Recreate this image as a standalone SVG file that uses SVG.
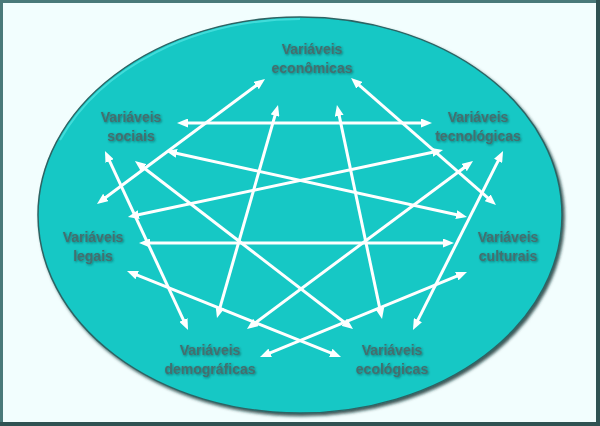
<svg xmlns="http://www.w3.org/2000/svg" width="600" height="426" viewBox="0 0 600 426">
<style>
.lbl{font-family:"Liberation Sans",Arial,sans-serif;font-weight:bold;font-size:14px;fill:#436f6f;text-anchor:middle;filter:url(#ts)}
.con line{stroke:#ffffff;stroke-width:3;fill:none;marker-start:url(#ah);marker-end:url(#ah)}
</style>
<defs>
<marker id="ah" markerUnits="userSpaceOnUse" markerWidth="11" markerHeight="9" refX="4" refY="4.5" orient="auto-start-reverse" viewBox="0 0 11 9">
<path d="M0,0 L11,4.5 L0,9 z" fill="#ffffff"/>
</marker>
<filter id="ts" x="-10%" y="-30%" width="130%" height="170%">
<feDropShadow dx="1" dy="1" stdDeviation="0.8" flood-color="#0d3a3a" flood-opacity="0.55"/>
</filter>
<filter id="es" x="-5%" y="-5%" width="112%" height="112%">
<feDropShadow dx="2" dy="2.5" stdDeviation="1.5" flood-color="#0b2e2e" flood-opacity="0.8"/>
</filter>
</defs>
<rect x="0" y="0" width="600" height="426" fill="#4a7a7a"/>
<rect x="0" y="422" width="600" height="4" fill="#2f5252"/>
<rect x="596" y="0" width="4" height="426" fill="#2f5252"/>
<rect x="3" y="3" width="593" height="419" fill="#f2fefe"/>
<g id="ellipse">
<ellipse cx="300" cy="215" rx="262" ry="198" fill="#13c8c5" stroke="#2e6464" stroke-width="1.5" filter="url(#es)"/>
<path d="M60,140 A262,198 0 0 1 300,19" fill="none" stroke="#52e4e2" stroke-width="2" opacity="0.7"/>
</g>
<g id="connectors" class="con">
<line x1="184" y1="123" x2="425" y2="123"/>
<line x1="146" y1="243" x2="447" y2="243"/>
<line x1="259.4" y1="83.2" x2="102.6" y2="199.8"/>
<line x1="356.3" y1="82.6" x2="490.7" y2="200.4"/>
<line x1="266.5" y1="354.3" x2="460.5" y2="274.7"/>
<line x1="133.5" y1="273.6" x2="334.5" y2="354.4"/>
<line x1="107.9" y1="157.4" x2="185.1" y2="323.6"/>
<line x1="499.9" y1="157.3" x2="416.1" y2="323.7"/>
<line x1="276.1" y1="111.7" x2="218.9" y2="311.3"/>
<line x1="338.4" y1="111.9" x2="380.6" y2="312.1"/>
<line x1="140.5" y1="165.3" x2="347.5" y2="324.7"/>
<line x1="467.4" y1="165.2" x2="252.6" y2="324.8"/>
<line x1="134.8" y1="215.5" x2="436.2" y2="151.5"/>
<line x1="172.8" y1="152.5" x2="460.2" y2="215.5"/>
</g>
<g id="economicas"><text class="lbl" x="312" y="54">Variáveis</text><text class="lbl" x="312" y="73">econômicas</text></g>
<g id="tecnologicas"><text class="lbl" x="478" y="122">Variáveis</text><text class="lbl" x="478" y="140.5">tecnológicas</text></g>
<g id="culturais"><text class="lbl" x="508" y="242">Variáveis</text><text class="lbl" x="508" y="261">culturais</text></g>
<g id="ecologicas"><text class="lbl" x="392" y="355">Variáveis</text><text class="lbl" x="392" y="374">ecológicas</text></g>
<g id="demograficas"><text class="lbl" x="210" y="355">Variáveis</text><text class="lbl" x="210" y="374">demográficas</text></g>
<g id="legais"><text class="lbl" x="93" y="242">Variáveis</text><text class="lbl" x="93" y="261">legais</text></g>
<g id="sociais"><text class="lbl" x="131" y="122">Variáveis</text><text class="lbl" x="131" y="140.5">sociais</text></g>
</svg>
